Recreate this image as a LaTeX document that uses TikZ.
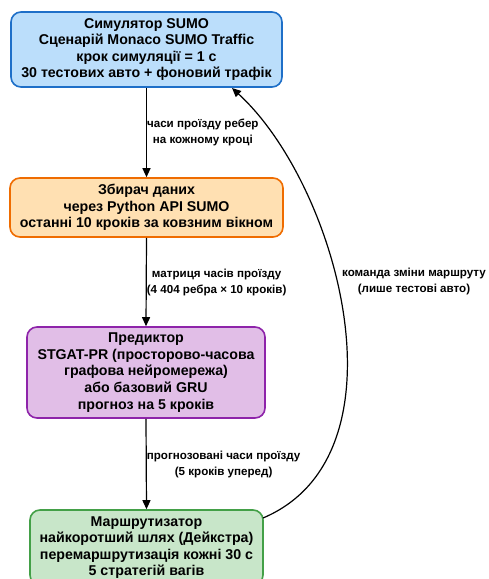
\documentclass[tikz,border=0pt]{standalone}
\usepackage{fontspec}
\setmainfont{Liberation Sans}
\usetikzlibrary{arrows.meta}
\definecolor{bfill}{HTML}{BBDEFB}
\definecolor{bline}{HTML}{1E6FC8}
\definecolor{ofill}{HTML}{FFE0B2}
\definecolor{oline}{HTML}{EF6C00}
\definecolor{pfill}{HTML}{E1BEE7}
\definecolor{pline}{HTML}{8E24AA}
\definecolor{gfill}{HTML}{C8E6C9}
\definecolor{gline}{HTML}{43A047}
\tikzset{
  box/.style={rounded corners=10pt, line width=1.6pt, align=center,
    font=\fontsize{14.2}{16.6}\selectfont\bfseries, inner sep=0pt},
  lbl/.style={align=center, font=\fontsize{11.6}{16}\selectfont\bfseries, inner sep=1pt},
  arr/.style={line width=1.2pt, -{Triangle[length=9pt,width=8pt]}}
}
\begin{document}
\begin{tikzpicture}[x=1pt,y=-1pt]
\clip (0,0) rectangle (488,579);
\fill[white] (0,0) rectangle (488,579);
\node[box, draw=bline, fill=bfill, minimum width=271pt, minimum height=75pt] (sim) at (146.5,49.5)
  {Симулятор SUMO\\Сценарій Monaco SUMO Traffic\\крок симуляції = 1 с\\30 тестових авто + фоновий трафік};
\node[box, draw=oline, fill=ofill, minimum width=273pt, minimum height=59pt] (col) at (146.5,207.5)
  {Збирач даних\\через Python API SUMO\\останні 10 кроків за ковзним вікном};
\node[box, draw=pline, fill=pfill, minimum width=238pt, minimum height=91pt] (pred) at (146,372.5)
  {Предиктор\\STGAT-PR (просторово-часова\\графова нейромережа)\\або базовий GRU\\прогноз на 5 кроків};
\node[box, draw=gline, fill=gfill, minimum width=233pt, minimum height=75pt] (rout) at (146.5,547.5)
  {Маршрутизатор\\найкоротший шлях (Дейкстра)\\перемаршрутизація кожні 30 с\\5 стратегій вагів};
\draw[arr] (sim.south) -- node[lbl, anchor=west, xshift=-1pt] {часи проїзду ребер\\на кожному кроці} (col.north);
\draw[arr] (col.south) -- node[lbl, anchor=west, xshift=-1pt] {матриця часів проїзду\\(4 404 ребра × 10 кроків)} (pred.north);
\draw[arr] (pred.south) -- node[lbl, anchor=west, xshift=-1pt] {прогнозовані часи проїзду\\(5 кроків уперед)} (rout.north);
\coordinate (rs) at (263,518);
\coordinate (se) at (232,88);
\draw[arr] (rs) .. controls (412,455) and (338,185) .. (se);
\node[lbl, anchor=center] (cl) at (414,281) {команда зміни маршруту\\(лише тестові авто)};
\end{tikzpicture}
\end{document}
